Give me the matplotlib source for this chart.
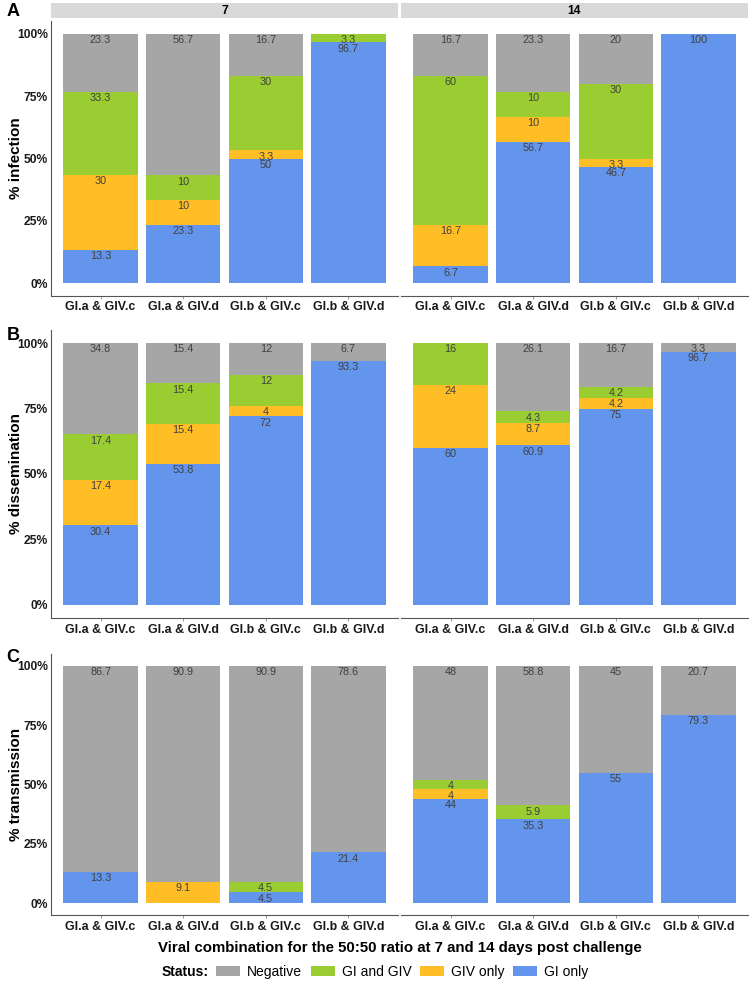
import numpy as np
import matplotlib
matplotlib.use('Agg')
from matplotlib import pyplot as plt
from matplotlib.patches import Patch

plt.rcParams['font.family'] = ['Liberation Sans', 'DejaVu Sans']

# categorias y datos (orden de apilado: GI only, GIV only, GI and GIV, Negative)
combos = ['GI.a & GIV.c', 'GI.a & GIV.d', 'GI.b & GIV.c', 'GI.b & GIV.d']
days = ['7', '14']
status = ['GI only', 'GIV only', 'GI and GIV', 'Negative']
colores = {'Negative': '#A6A6A6', 'GI and GIV': '#9ACD32',
           'GIV only': '#FFBE26', 'GI only': '#6495ED'}
legend_order = ['Negative', 'GI and GIV', 'GIV only', 'GI only']

# A: infection
inf_d7_gi = [13.3, 23.3, 50, 96.7]
inf_d7_giv = [30, 10, 3.3, 0]
inf_d7_both = [33.3, 10, 30, 3.3]
inf_d7_neg = [23.3, 56.7, 16.7, 0]
inf_d14_gi = [6.7, 56.7, 46.7, 100]
inf_d14_giv = [16.7, 10, 3.3, 0]
inf_d14_both = [60, 10, 30, 0]
inf_d14_neg = [16.7, 23.3, 20, 0]

# B: dissemination
dis_d7_gi = [30.4, 53.8, 72, 93.3]
dis_d7_giv = [17.4, 15.4, 4, 0]
dis_d7_both = [17.4, 15.4, 12, 0]
dis_d7_neg = [34.8, 15.4, 12, 6.7]
dis_d14_gi = [60, 60.9, 75, 96.7]
dis_d14_giv = [24, 8.7, 4.2, 0]
dis_d14_both = [16, 4.3, 4.2, 0]
dis_d14_neg = [0, 26.1, 16.7, 3.3]

# C: transmission
tra_d7_gi = [13.3, 0, 4.5, 21.4]
tra_d7_giv = [0, 9.1, 0, 0]
tra_d7_both = [0, 0, 4.5, 0]
tra_d7_neg = [86.7, 90.9, 90.9, 78.6]
tra_d14_gi = [44, 35.3, 55, 79.3]
tra_d14_giv = [4, 0, 0, 0]
tra_d14_both = [4, 5.9, 0, 0]
tra_d14_neg = [48, 58.8, 45, 20.7]

paneles = [
    ('A', '% infection', [[inf_d7_gi, inf_d7_giv, inf_d7_both, inf_d7_neg],
                          [inf_d14_gi, inf_d14_giv, inf_d14_both, inf_d14_neg]]),
    ('B', '% dissemination', [[dis_d7_gi, dis_d7_giv, dis_d7_both, dis_d7_neg],
                              [dis_d14_gi, dis_d14_giv, dis_d14_both, dis_d14_neg]]),
    ('C', '% transmission', [[tra_d7_gi, tra_d7_giv, tra_d7_both, tra_d7_neg],
                             [tra_d14_gi, tra_d14_giv, tra_d14_both, tra_d14_neg]]),
]

W, H = 750, 990
fig = plt.figure(figsize=(7.5, 9.9), dpi=100)


def rect(x0, x1, ytop, ybot):
    return [x0 / W, 1 - ybot / H, (x1 - x0) / W, (ybot - ytop) / H]


# posiciones verticales de cada panel en pixeles (arriba, abajo)
filas = [(21.5, 295.5), (330, 618), (654, 915)]
columnas = [(51, 398), (401, 748)]
letras_y = [11, 336, 658]

for (letra, ylab, datos), (yt, yb), ly in zip(paneles, filas, letras_y):
    for k, (x0, x1) in enumerate(columnas):
        ax = fig.add_axes(rect(x0, x1, yt, yb))
        vals = np.array(datos[k], dtype=float)
        tot = vals.sum(axis=0)
        frac = vals / tot
        x = np.arange(len(combos))
        base = np.zeros(len(combos))
        for s, nombre in enumerate(status):
            ax.bar(x, frac[s], 0.9, bottom=base, color=colores[nombre], linewidth=0)
            for i in range(len(combos)):
                if vals[s][i] > 0:
                    ax.annotate('%g' % vals[s][i], (x[i], base[i] + frac[s][i]),
                                xytext=(0, -4.6), textcoords='offset points',
                                ha='center', va='center', fontsize=7.8, color='#404040')
            base = base + frac[s]
        ax.set_xlim(-0.6, 3.6)
        ax.set_ylim(-0.05, 1.05)
        ax.set_xticks(x)
        ax.set_xticklabels(combos, fontsize=8.9, fontweight='bold', color='#1a1a1a')
        ax.tick_params(axis='x', length=2.5, width=0.6, color='#888888', pad=1.5)
        for lado in ['top', 'right']:
            ax.spines[lado].set_visible(False)
        ax.spines['bottom'].set_color('#555555')
        ax.spines['bottom'].set_linewidth(0.8)
        if k == 0:
            ax.set_yticks([0, 0.25, 0.5, 0.75, 1])
            ax.set_yticklabels(['0%', '25%', '50%', '75%', '100%'],
                               fontsize=8.7, fontweight='bold', color='#1a1a1a')
            ax.tick_params(axis='y', length=0, pad=2)
            ax.spines['left'].set_color('#555555')
            ax.spines['left'].set_linewidth(0.8)
        else:
            ax.set_yticks([])
            ax.spines['left'].set_visible(False)
        # tiras de facetas solo en A
        if letra == 'A':
            sax = fig.add_axes(rect(x0, x1, 3, 18))
            sax.set_facecolor('#D9D9D9')
            sax.set_xticks([])
            sax.set_yticks([])
            for sp in sax.spines.values():
                sp.set_visible(False)
            sax.text(0.5, 0.5, days[k], ha='center', va='center',
                     fontsize=8.7, fontweight='bold', transform=sax.transAxes)
    # etiqueta eje y y letra del panel
    fig.text(16 / W, 1 - (yt + yb) / 2 / H, ylab, rotation=90, ha='center', va='center',
             fontsize=11, fontweight='bold')
    fig.text(13 / W, 1 - ly / H, letra,
             ha='center', va='center', fontsize=13, fontweight='bold')

fig.text(399.5 / W, 1 - 948 / H,
         'Viral combination for the 50:50 ratio at 7 and 14 days post challenge',
         ha='center', va='center', fontsize=10.8, fontweight='bold')

# leyenda
fig.text(162 / W, 1 - 972 / H, 'Status:', ha='left', va='center',
         fontsize=10, fontweight='bold')
handles = [Patch(facecolor=colores[n], edgecolor='none', label=n) for n in legend_order]
fig.legend(handles=handles, ncol=4, loc='center left',
           bbox_to_anchor=(216 / W, 1 - 972 / H), frameon=False, fontsize=10,
           handlelength=1.75, handleheight=0.65, handletextpad=0.5,
           columnspacing=0.6, borderpad=0, borderaxespad=0)

fig.savefig('out.png', dpi=100)
